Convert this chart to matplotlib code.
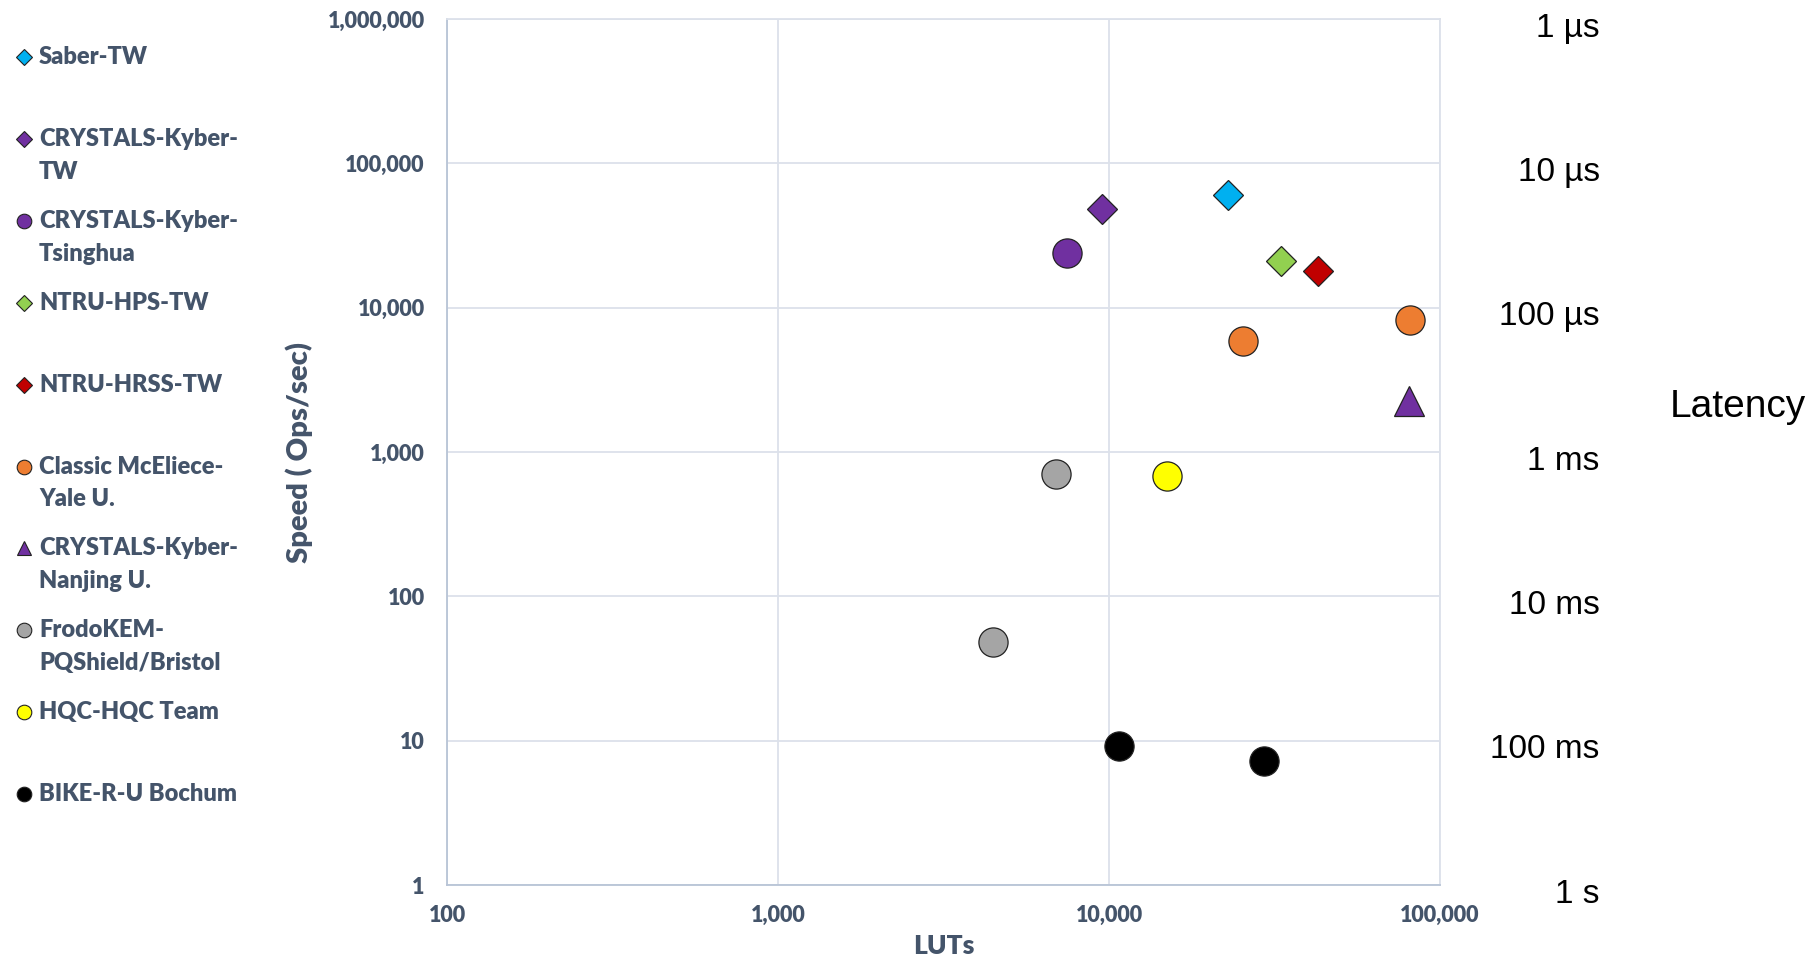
import numpy as np
import matplotlib
matplotlib.use("Agg")
import matplotlib.pyplot as plt
from matplotlib.lines import Line2D
from matplotlib.ticker import NullLocator
from matplotlib.transforms import ScaledTranslation

TEXT_COLOR = "#44546A"
WEIGHT = 800

# series: name, marker, colour, LUTs, speed (ops/sec)
NAMES = ["Saber-TW", "CRYSTALS-Kyber-\nTW", "CRYSTALS-Kyber-\nTsinghua", "NTRU-HPS-TW",
         "NTRU-HRSS-TW", "Classic McEliece-\nYale U.", "CRYSTALS-Kyber-\nNanjing U.",
         "FrodoKEM-\nPQShield/Bristol", "HQC-HQC Team", "BIKE-R-U Bochum"]
MARKERS = ["D", "D", "o", "D", "D", "o", "^", "o", "o", "o"]
COLORS = ["#00B0F0", "#7030A0", "#7030A0", "#92D050", "#C00000", "#ED7D31", "#7030A0",
          "#A5A5A5", "#FFFF00", "#000000"]

saber_luts, saber_speed = [22900], [60000]
kyber_tw_luts, kyber_tw_speed = [9500], [48000]
kyber_tsinghua_luts, kyber_tsinghua_speed = [7450], [23800]
ntru_hps_luts, ntru_hps_speed = [33000], [21000]
ntru_hrss_luts, ntru_hrss_speed = [42800], [18000]
mceliece_luts, mceliece_speed = [25400, 81000], [5850, 8200]
kyber_nanjing_luts, kyber_nanjing_speed = [80500], [2250]
frodo_luts, frodo_speed = [6900, 4450], [710, 48.5]
hqc_luts, hqc_speed = [15000], [685]
bike_luts, bike_speed = [10700, 29500], [9.2, 7.2]

LUTS = [saber_luts, kyber_tw_luts, kyber_tsinghua_luts, ntru_hps_luts, ntru_hrss_luts,
        mceliece_luts, kyber_nanjing_luts, frodo_luts, hqc_luts, bike_luts]
SPEEDS = [saber_speed, kyber_tw_speed, kyber_tsinghua_speed, ntru_hps_speed, ntru_hrss_speed,
          mceliece_speed, kyber_nanjing_speed, frodo_speed, hqc_speed, bike_speed]

X_TICKS = [100, 1000, 10000, 100000]
X_LABELS = ["100", "1,000", "10,000", "100,000"]
Y_TICKS = [1, 10, 100, 1000, 10000, 100000, 1000000]
Y_LABELS = ["1", "10", "100", "1,000", "10,000", "100,000", "1,000,000"]
LATENCY_LABELS = ["1 s", "100 ms", "10 ms", "1 ms", "100 µs", "10 µs", "1 µs"]

plt.rcParams["font.family"] = ["Lato", "DejaVu Sans"]

fig = plt.figure(figsize=(18.17, 9.61), dpi=100)
ax = fig.add_axes([0.246, 0.079, 0.5465, 0.9012])

for name, mk, col, xs, ys in zip(NAMES, MARKERS, COLORS, LUTS, SPEEDS):
    size = 15 if mk == "D" else 21
    ax.plot(xs, ys, linestyle="none", marker=mk, markersize=size, markerfacecolor=col,
            markeredgecolor="#222222", markeredgewidth=0.9, zorder=3)

ax.set_xscale("log")
ax.set_yscale("log")
ax.set_xlim(100, 100000)
ax.set_ylim(1, 1000000)
ax.xaxis.set_minor_locator(NullLocator())
ax.yaxis.set_minor_locator(NullLocator())
ax.tick_params(axis="both", length=0)
ax.tick_params(axis="y", pad=16)
ax.tick_params(axis="x", pad=14)
ax.set_xticks(X_TICKS)
ax.set_xticklabels(X_LABELS, fontsize=15.5, fontweight=WEIGHT, color=TEXT_COLOR)
ax.set_yticks(Y_TICKS)
ax.set_yticklabels(Y_LABELS, fontsize=15.5, fontweight=WEIGHT, color=TEXT_COLOR)
ax.grid(True, color="#DCE1EA", linewidth=1.3)
ax.set_axisbelow(True)
for side in ["top", "right"]:
    ax.spines[side].set_color("#DCE1EA")
    ax.spines[side].set_linewidth(1.3)
for side in ["left", "bottom"]:
    ax.spines[side].set_color("#B8C4D6")
    ax.spines[side].set_linewidth(1.3)

ax.set_xlabel("LUTs", fontsize=19, fontweight=WEIGHT, color=TEXT_COLOR, labelpad=6)
ax.set_ylabel("Speed ( Ops/sec)", fontsize=21, fontweight=WEIGHT, color=TEXT_COLOR)
ax.yaxis.set_label_coords(-0.135, 0.5)

# latency scale on the right (latency = 1 / speed)
ax2 = ax.twinx()
ax2.set_yscale("log")
ax2.set_ylim(ax.get_ylim())
ax2.yaxis.set_minor_locator(NullLocator())
ax2.tick_params(axis="y", length=0, pad=115)
ax2.set_yticks(Y_TICKS)
ax2.set_yticklabels(LATENCY_LABELS, fontsize=24, family="Liberation Sans", color="black",
                    ha="right")
shift = ScaledTranslation(0, -4 / 72, fig.dpi_scale_trans)
for lab in ax2.get_yticklabels():
    lab.set_transform(lab.get_transform() + shift)
for sp in ax2.spines.values():
    sp.set_visible(False)
fig.text(1738 / 1817, 1 - 407 / 961, "Latency", fontsize=28, family="Liberation Sans",
         ha="center", va="center", color="black")

# legend on the left
for i, (name, mk, col) in enumerate(zip(NAMES, MARKERS, COLORS)):
    y = 57 + i * 81.9
    size = 8 if mk == "D" else 10.5
    fig.add_artist(Line2D([24 / 1817], [1 - y / 961], transform=fig.transFigure,
                          linestyle="none", marker=mk, markersize=size, markerfacecolor=col,
                          markeredgecolor="#222222", markeredgewidth=0.8))
    for k, line in enumerate(name.split("\n")):
        fig.text(39 / 1817, 1 - (y + k * 33) / 961, line, fontsize=17, fontweight=WEIGHT,
                 color=TEXT_COLOR, ha="left", va="center")

fig.savefig("out.png", dpi=100)
